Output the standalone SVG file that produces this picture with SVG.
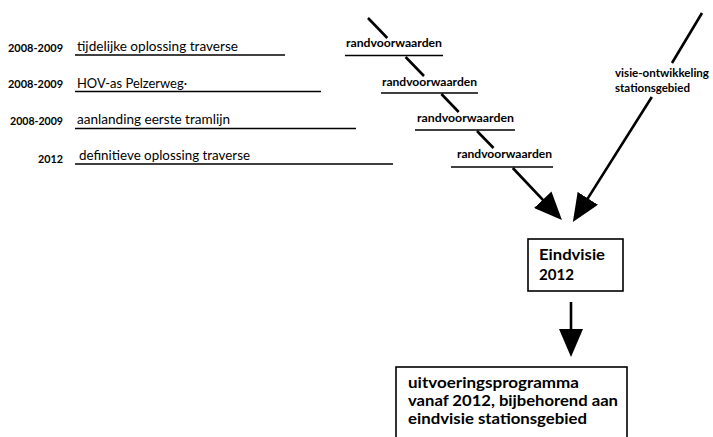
<svg xmlns="http://www.w3.org/2000/svg" width="713" height="437" viewBox="0 0 713 437">
<style>
text{font-family:Lato,"Open Sans","Liberation Sans",sans-serif;fill:#000}
.yr{font-size:10.5px;font-weight:bold;text-anchor:end}
.item{font-size:14px}
.rv{font-size:11px;font-weight:bold}
.box{fill:#fff;stroke:#000;stroke-width:1.6}
.big{font-size:14.8px;font-weight:bold}
.ul{stroke:#000;stroke-width:1.5;fill:none}
.con{stroke:#000;stroke-width:2.6;fill:none;marker-end:url(#ah)}
</style>
<defs>
<marker id="ah" markerUnits="userSpaceOnUse" markerWidth="28" markerHeight="24" viewBox="0 0 28 24" refX="24" refY="12" orient="auto">
<path d="M0,0 L28,12 L0,24 z" fill="#000"/>
</marker>
</defs>
<g id="row1">
<text class="yr" x="63" y="51.5" textLength="55" lengthAdjust="spacingAndGlyphs">2008-2009</text>
<text class="item" x="77" y="50.5" textLength="161" lengthAdjust="spacingAndGlyphs">tijdelijke oplossing traverse</text>
<line class="ul" x1="75" y1="55" x2="285" y2="55"/>
</g>
<g id="row2">
<text class="yr" x="63" y="88" textLength="55" lengthAdjust="spacingAndGlyphs">2008-2009</text>
<text class="item" x="77" y="87.5" textLength="110" lengthAdjust="spacingAndGlyphs">HOV-as Pelzerweg·</text>
<line class="ul" x1="75" y1="91.5" x2="321" y2="91.5"/>
</g>
<g id="row3">
<text class="yr" x="63" y="125" textLength="53" lengthAdjust="spacingAndGlyphs">2008-2009</text>
<text class="item" x="77" y="123.5" textLength="153" lengthAdjust="spacingAndGlyphs">aanlanding eerste tramlijn</text>
<line class="ul" x1="75" y1="128.5" x2="356" y2="128.5"/>
</g>
<g id="row4">
<text class="yr" x="63" y="162.5" textLength="25" lengthAdjust="spacingAndGlyphs">2012</text>
<text class="item" x="79" y="160" textLength="171" lengthAdjust="spacingAndGlyphs">definitieve oplossing traverse</text>
<line class="ul" x1="75" y1="164" x2="393" y2="164"/>
</g>
<g id="rv1">
<text class="rv" x="346" y="47" textLength="96" lengthAdjust="spacingAndGlyphs">randvoorwaarden</text>
<line class="ul" x1="345" y1="55.5" x2="443" y2="55.5"/>
</g>
<g id="rv2">
<text class="rv" x="382" y="86" textLength="95" lengthAdjust="spacingAndGlyphs">randvoorwaarden</text>
<line class="ul" x1="381" y1="93" x2="478" y2="93"/>
</g>
<g id="rv3">
<text class="rv" x="417" y="122" textLength="97" lengthAdjust="spacingAndGlyphs">randvoorwaarden</text>
<line class="ul" x1="415" y1="130" x2="515" y2="130"/>
</g>
<g id="rv4">
<text class="rv" x="457" y="158" textLength="95" lengthAdjust="spacingAndGlyphs">randvoorwaarden</text>
<line class="ul" x1="451" y1="167" x2="553" y2="167"/>
</g>
<g id="visie">
<text class="rv" x="615" y="77" textLength="94" lengthAdjust="spacingAndGlyphs">visie-ontwikkeling</text>
<text class="rv" x="615" y="92" textLength="75" lengthAdjust="spacingAndGlyphs">stationsgebied</text>
</g>
<g id="eindvisie">
<rect class="box" x="528" y="239" width="95" height="52"/>
<text class="big" x="539" y="260" textLength="66" lengthAdjust="spacingAndGlyphs">Eindvisie</text>
<text class="big" x="539" y="280" textLength="35" lengthAdjust="spacingAndGlyphs">2012</text>
</g>
<g id="uitvoering">
<rect class="box" x="396" y="367" width="231" height="80"/>
<text class="big" x="408" y="388" textLength="171" lengthAdjust="spacingAndGlyphs">uitvoeringsprogramma</text>
<text class="big" x="408" y="406" textLength="210" lengthAdjust="spacingAndGlyphs">vanaf 2012, bijbehorend aan</text>
<text class="big" x="408" y="424" textLength="179" lengthAdjust="spacingAndGlyphs">eindvisie stationsgebied</text>
</g>
<g id="connectors">
<path class="con" d="M368,18 L387.3,38 M405.6,57 L424,76 M441.4,94 L458.7,112 M477,131 L493.5,148 M512.8,168 L559.2,217.1"/>
<path class="con" d="M702,13 L672,63 M651.8,97 L575,218.6"/>
<path class="con" d="M571,302 L571,353"/>
</g>
</svg>
